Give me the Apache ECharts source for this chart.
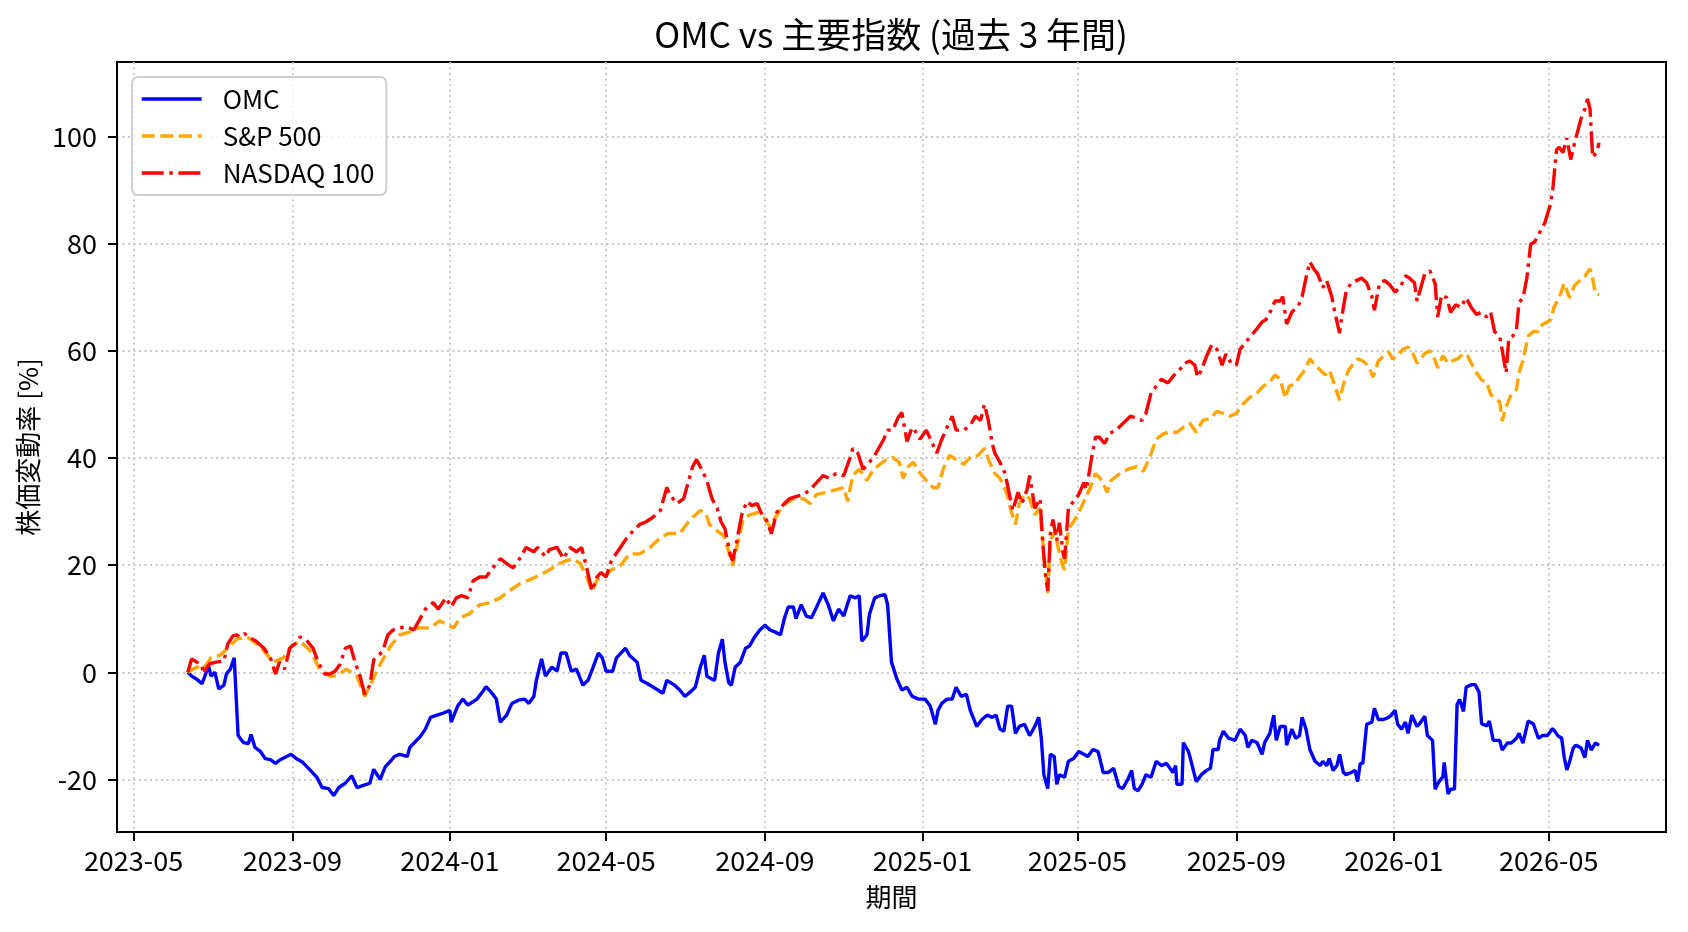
<!DOCTYPE html>
<html>
<head>
<meta charset="utf-8">
<title>OMC vs 主要指数</title>
<script src="https://cdn.jsdelivr.net/npm/echarts@6/dist/echarts.min.js"></script>
<style>
html, body { margin: 0; padding: 0; background: #fff; }
#chart { width: 1688px; height: 932px; }
</style>
</head>
<body>
<div id="chart"></div>
<script>
// x values are days counted from 2023-05-01, y values are % change from the first day
var BASE = Date.UTC(2023, 4, 1);
var DAY = 86400000;

var tickMonths = ['2023-05', '2023-09', '2024-01', '2024-05', '2024-09', '2025-01', '2025-05', '2025-09', '2026-01', '2026-05'];
var yTicks = [-20, 0, 20, 40, 60, 80, 100];
var seriesNames = ['OMC', 'S&P 500', 'NASDAQ 100'];

var omcPoints = [
	[42,0],[45,-0.7],[49,-1.3],[53,-2.1],[55,-0.9],[58,1.3],[60,-0.7],[63,0],[66,-3.1],[70,-2.4],[72,-0.3],[75,0.6],[78,2.7],[80,-7.1],[81,-11.8],[85,-13.1],[89,-13.3],[91,-11.6],[94,-14],[98,-14.7],
	[102,-16.1],[106,-16.3],[110,-17],[113,-16.4],[117,-15.9],[122,-15.3],[126,-16.1],[131,-16.8],[137,-18.3],[142,-19.6],[146,-21.5],[151,-21.7],[155,-23],[159,-21.5],[164,-20.7],[169,-19.3],[173,-21.5],[178,-21.1],[183,-20.7],[186,-18.1],
	[191,-20],[195,-17.6],[199,-16.6],[202,-15.7],[206,-15.3],[212,-15.7],[214,-14],[218,-13],[222,-12],
	[226,-10.6],[230,-8.4],[235,-8],[240,-7.6],[245,-7.1],[246,-9.3],[251,-6.3],[255,-5],[259,-6.1],[266,-5],[270,-3.7],[273,-2.7],[277,-3.7],[281,-5],[284,-9.3],[289,-8],[293,-5.8],[298,-5.2],[303,-5],[306,-5.8],
	[310,-4.5],[312,-1.5],[316,2.5],[319,-0.7],[324,1],[328,0.2],[331,3.6],[335,3.6],[339,0.2],[343,0.6],[348,-2.4],[352,-1.5],[356,1],[360,3.6],[363,2.7],[366,0.2],[371,0.2],[374,2.7],[381,4.5],[384,3.2],
	[390,1.9],[393,-1.5],[397,-2],[402,-2.7],[410,-3.9],[413,-1.5],
	[419,-2.4],[423,-3.3],[427,-4.5],[431,-3.7],[435,-2.8],[439,1],[442,3.2],[444,-0.7],[448,-1.3],[450,-1.5],[453,3.6],[456,6.2],[458,1.9],[461,-2],[463,-2.4],[466,1],[470,1.9],[474,4.5],[477,4.9],[481,6.6],
	[485,7.9],[489,8.8],[493,7.9],[497,7.5],[501,7],[504,10],[507,12.2],[511,12.2],[513,10],[517,12.6],[521,10.5],[525,10.2],[529,12.2],[534,14.8],[538,12.6],[542,9.6],[546,11.8],[550,10.5],[555,14.3],[559,13.9],
	[562,14.3],[564,5.8],[568,7],[570,10.9],[574,13.9],[578,14.3],[582,14.5],[584,12.6],[587,1.9],[591,-1.1],[595,-3.3],[599,-2.8],[603,-4.5],[608,-5],
	[613,-5],[617,-6.3],[621,-9.7],[623,-7.1],[626,-5.8],[630,-5],[634,-5],[637,-2.8],[641,-4.5],[645,-4.1],[648,-7.1],[653,-10.1],[657,-8.8],[661,-8],[665,-8.4],[668,-8],[671,-10.6],[674,-11],[677,-6.3],[680,-6.3],
	[683,-11.4],[686,-10.1],[690,-9.7],[694,-11.8],[698,-10.1],[701,-8.4],[703,-12.3],[705,-19.1],[708,-21.7],[710,-15.3],[713,-15.7],[715,-20.9],[717,-19.1],[721,-19.6],[724,-16.6],[728,-16.1],[732,-14.8],[736,-15.3],[739,-15.7],[743,-14.4],
	[747,-14.8],[751,-18.7],[755,-18.7],[759,-17.9],[763,-21.3],[766,-21.7],[770,-20],[773,-18.3],[775,-21.7],[778,-22.1],[781,-20.9],[784,-19.1],[788,-19.6],[792,-16.6],[796,-17.4],[800,-17],
	[805,-18.7],[807,-17.4],[808,-20.9],[812,-20.9],[813,-13.1],[817,-14.8],[819,-16.6],[823,-20.4],[827,-19.1],[831,-18.3],[834,-17.9],[836,-14.4],[840,-14.4],[841,-12.7],[844,-11],[848,-12.3],[853,-12.7],[857,-10.6],[861,-11.8],[863,-14],
	[866,-12.7],[870,-13.1],[874,-15.3],[876,-13.1],[880,-11.4],[883,-8],[885,-12.7],[888,-10.1],[892,-10.1],[893,-13.6],[897,-10.6],[900,-12.3],[903,-11.8],[905,-8.4],[908,-10.6],[911,-14.4],[915,-16.6],[919,-17.4],[921,-16.6],[924,-17.4],
	[926,-16.1],[929,-18.3],[932,-17.4],[934,-15.3],[937,-18.7],[939,-19.1],[943,-18.7],[946,-18.3],[948,-20.4],[950,-17],[952,-17],[955,-9.7],[959,-9.3],[961,-6.7],[964,-8.8],[968,-8.8],[972,-8.4],[974,-8],[977,-7.1],[979,-9.7],
	[982,-10.6],[985,-9.3],[987,-11.4],[990,-8],[994,-10.1],
	[996,-9.6],[1000,-8.2],[1002,-11.8],[1006,-12.7],[1008,-21.8],[1011,-20.4],[1014,-19.5],[1015,-16.8],[1018,-22.7],[1020,-21.8],[1023,-21.8],[1025,-6],[1027,-5.1],[1030,-7.3],[1032,-2.8],[1036,-2.3],[1039,-2.3],[1042,-3.7],[1044,-9.6],[1048,-10],
	[1050,-9.1],[1053,-12.7],[1058,-12.7],[1060,-14.5],[1064,-13.2],[1067,-13.2],[1071,-12.3],[1073,-11.4],[1076,-13.2],[1080,-9.1],[1084,-9.6],[1088,-12.3],[1091,-11.8],[1095,-11.8],[1099,-10.5],[1103,-11.8],[1106,-12.3],[1108,-15.9],[1110,-18.2],[1112,-16.8],
	[1115,-14.1],[1117,-13.6],[1121,-14.1],[1124,-15.9],[1126,-12.7],[1129,-14.5],[1132,-13.2],[1135,-13.6]
];

var spPoints = [
	[42,0],[49,1],[54,0.6],[60,2.7],[67,3.2],[73,4.5],[80,6.2],[88,6.6],[93,5.8],[101,4],[108,1.9],[116,2.7],[122,4.9],[129,5.8],[137,4],[144,0.6],[152,-0.7],[157,-0.7],[165,0.6],[173,-0.7],
	[179,-4.5],[184,-2],[191,1.5],[199,4.9],[206,7],[214,7.5],[221,8.3],
	[230,8.3],[237,9.6],[248,8.3],[253,10.2],[260,10.9],[268,12.6],[276,13],[284,13.9],[291,15.2],[299,16.5],[307,17.3],[315,18.2],[322,19.1],[330,20.3],[335,20.8],[340,21.2],[346,20.3],[351,17.8],[355,15.2],[359,17.3],
	[364,17.8],[370,19.1],[377,19.9],[384,22.1],[392,22.1],[400,23.3],[408,25.1],[414,25.9],
	[423,25.9],[431,28.5],[439,30.2],[443,29.8],[446,27.6],[452,26.4],[457,25.5],[461,22.5],[464,19.9],[468,24.2],[472,28.5],[477,29.4],[483,29.8],[488,28.9],[493,27.2],[497,28.9],[503,31.1],[511,32.4],[519,32.4],[524,31.5],
	[529,33.2],[537,33.6],[544,34.1],[550,34.5],[553,31.9],[557,36.7],[562,37.9],[568,35.8],[573,37.9],[578,38.8],[583,39.7],[588,40.1],[593,39.2],[596,36.2],[600,38.4],[604,39.2],[608,37.5],
	[614,35.8],[619,34.5],[623,34.5],[627,37.9],[632,40.5],[637,39.7],[643,38.8],[648,40.1],[654,40.5],[659,41.8],[663,39.2],[667,37.1],[671,36.2],[676,33.6],[680,29.8],[683,27.6],[686,31.5],[690,33.2],[694,32.4],[698,29.4],
	[702,30.6],[705,22.1],[708,14.8],[710,24.6],[714,26.4],[716,23.3],[719,20.3],[721,19.1],[724,26.8],[728,28.1],[732,29.8],[737,32.4],[741,34.5],[745,37.1],[750,35.8],[754,33.6],[757,35.8],[764,37.1],[770,37.9],[777,38.4],
	[782,37.5],[787,40.1],[792,43.5],[797,44.4],[801,44.8],
	[808,44.8],[813,45.7],[818,46.5],[823,44.8],[828,47],[834,47.4],[839,48.7],[844,48.3],[849,47.8],[854,48.3],[859,50],[864,51.2],[870,52.1],[875,53.4],[880,54.2],[884,55.5],[888,54.7],[892,51.2],[895,53.4],[899,53.8],
	[903,55.1],[907,56.4],[911,58.5],[915,57.3],[919,56.4],[923,55.5],[926,56.4],[930,53.8],[934,50.8],[937,53.8],[941,56.4],[945,57.7],[948,58.5],[952,58.1],[956,57.3],[960,55.1],[964,58.1],[968,59],[972,59.8],[975,58.5],
	[979,59],[983,60.3],[987,60.7],[991,59.4],[994,57.7],
	[1000,59.5],[1004,60],[1008,58.2],[1010,56.8],[1014,59.1],[1018,57.7],[1022,58.2],[1026,58.6],[1030,59.5],[1033,59.1],[1036,57.7],[1040,55.9],[1044,54.6],[1048,54.1],[1051,51.9],[1055,50.9],[1058,50.5],[1060,46.9],[1063,49.6],[1067,51.9],
	[1071,52.8],[1073,55.9],[1076,58.2],[1080,62.7],[1084,63.6],[1088,63.6],[1091,64.9],[1095,65.4],[1098,65.9],[1100,68.1],[1104,69.9],[1108,72.6],[1112,69.9],[1116,72.2],[1120,73.1],[1124,73.9],[1128,75.3],[1130,73.5],[1132,70.8],[1135,70.4]
];

var ndxPoints = [
	[42,0],[45,2.5],[49,1.9],[53,1.3],[54,-0.3],[57,1],[59,1.6],[64,1.9],[70,2.1],[73,5.3],[77,6.8],[80,7],[82,6.6],[86,7.2],[90,6.5],[95,5.8],[101,4.5],[106,2.7],[110,-0.3],[113,1.9],
	[117,0.6],[121,4.5],[126,5.5],[129,6.6],[134,6],[139,4.5],[143,1.9],[148,-0.3],[152,-0.3],[156,0.2],[160,1.5],[164,4.5],[168,4.9],[172,1.5],[175,-0.3],[179,-4.1],[183,-2.4],[186,2.3],[190,3.2],[193,4],
	[197,7],[201,7.9],[206,8.3],[212,8.5],[217,7.9],[221,9.6],
	[226,11.8],[232,13],[236,11.8],[242,13.9],[246,12.2],[250,13.9],[254,14.3],[259,13.9],[263,17.1],[268,17.8],[273,17.8],[277,19.1],[284,21.2],[289,20.3],[294,19.5],[299,21.2],[304,23.3],[310,22.5],[313,23.3],[319,21.6],
	[322,22.9],[328,23.3],[333,21.2],[338,23.3],[343,22.5],[347,23.3],[351,19.5],[355,15.2],[359,17.8],[362,18.6],[366,17.8],[370,20.8],[377,23.3],[382,25.1],[387,26.4],[392,27.6],[397,28.1],[402,28.9],[408,30.2],[413,34.5],
	[415,33.2],[421,31.5],[426,32.4],[430,35.8],[433,38.4],[436,39.7],[440,37.9],[444,35.8],[448,32.4],[452,30.6],[455,28.1],[458,26.8],[462,22.1],[464,20.8],[467,24.2],[471,29.4],[475,31.9],[479,31.1],[483,31.5],[486,29.8],
	[490,28.5],[494,25.9],[498,29.8],[504,31.5],[508,32.4],[513,32.8],[519,33.2],[524,34.1],[529,35.4],[534,36.7],[539,36.2],[544,37.1],[550,36.7],[555,40.1],[557,41.8],[561,40.9],[565,37.9],[570,39.2],[575,40.9],[581,43.5],
	[584,45.2],[588,45.2],[592,47.5],[595,48.5],[599,43.1],[603,45.7],[606,44.8],
	[609,43.5],[614,45.2],[618,43.1],[622,40.9],[626,43.5],[630,45.7],[634,47.8],[637,45.2],[643,45.2],[648,46.1],[652,47.8],[656,47],[659,50],[662,47],[665,42.7],[667,40.9],[671,39.2],[675,37.1],[679,32.4],[681,30.2],
	[685,33.6],[688,31.5],[692,34.1],[694,36.7],[698,30.6],[702,32.4],[704,24.6],[706,18.6],[708,15.2],[710,25.9],[712,28.5],[715,24.6],[717,27.9],[720,22.1],[721,21.2],[724,30.6],[728,31.9],[732,33.2],[736,35.4],[738,34.1],
	[742,40.1],[745,43.9],[748,43.9],[752,42.7],[756,44.6],[761,45.2],[766,46.4],[772,47.8],[777,47.4],[781,47],[784,48.3],[788,52.1],[792,53.4],[796,54.7],[801,54],
	[806,55.5],[810,56.4],[814,57.7],[818,58.1],[822,57.3],[824,55.1],[827,56.4],[831,59],[835,61.1],[839,60.3],[843,57.3],[846,59.4],[850,57.7],[854,57.3],[857,60.3],[861,61.5],[864,62.4],[870,64.1],[874,65.4],[877,65.8],
	[881,67.6],[884,69.3],[888,69.3],[890,70.1],[893,65],[897,67.2],[902,68.4],[905,70.1],[908,73.6],[911,76.6],[914,75.3],[917,74.4],[921,71.8],[924,73.1],[928,70.1],[930,67.6],[934,63.3],[936,66.7],[939,71],[943,72.7],
	[947,73.1],[951,73.6],[955,72.7],[959,70.1],[961,67.6],[965,72.7],[969,73.1],[973,72.3],[977,71],[981,71.8],[985,74],[988,73.6],[992,72.7],[994,69.3],
	[1000,74.4],[1004,74.9],[1008,72.6],[1010,66.3],[1013,70.4],[1017,69.9],[1020,67.2],[1024,68.6],[1028,68.1],[1032,69.9],[1036,68.1],[1040,66.8],[1044,67.2],[1048,66.3],[1051,67.2],[1054,63.6],[1058,62.7],[1060,60],[1063,55.9],[1065,62.2],
	[1068,62.7],[1071,64],[1073,69],[1076,69.9],[1079,73.5],[1082,79.9],[1085,80.3],[1089,82.1],[1093,83.9],[1097,87.1],[1099,89.8],[1102,97.5],[1104,98],[1107,97],[1110,99.7],[1113,95.7],[1116,98.8],[1119,101.5],[1121,103.3],[1124,105.1],
	[1126,107],[1128,105.1],[1130,96.1],[1133,97],[1135,98.8]
];

var FONT = "'Noto Sans CJK JP', 'Noto Sans', sans-serif";

function toTime(day) {
	return BASE + day * DAY;
}

function build(points) {
	return points.map(function(p) {
		return [toTime(p[0]), p[1]];
	});
}

function pad(n) {
	return n < 10 ? '0' + n : '' + n;
}

var monthTicks = tickMonths.map(function(m) {
	var parts = m.split('-');
	return Date.UTC(Number(parts[0]), Number(parts[1]) - 1, 1);
});

var chart = echarts.init(document.getElementById('chart'));

var option = {
	animation: false,
	backgroundColor: '#ffffff',
	textStyle: {
		fontFamily: FONT
	},
	title: {
		text: 'OMC vs 主要指数 (過去 3 年間)',
		left: 891,
		top: 17,
		textAlign: 'center',
		padding: 0,
		textStyle: {
			fontSize: 35,
			fontWeight: 'normal',
			color: '#000',
			fontFamily: FONT
		}
	},
	legend: {
		orient: 'vertical',
		left: 132,
		top: 77,
		padding: [9, 12, 9, 8],
		itemGap: 11,
		itemWidth: 60,
		itemHeight: 20,
		backgroundColor: 'rgba(255,255,255,0.8)',
		borderColor: '#d0d0d0',
		borderWidth: 2,
		borderRadius: 6,
		itemStyle: {
			opacity: 0
		},
		lineStyle: {
			width: 3.4
		},
		textStyle: {
			fontSize: 26,
			color: '#000',
			fontFamily: FONT,
			padding: [0, 0, 0, 16]
		},
		data: seriesNames
	},
	grid: {
		left: 117,
		right: 22,
		top: 62,
		bottom: 100,
		show: true,
		borderColor: '#000',
		borderWidth: 2,
		outerBoundsMode: 'none',
		containLabel: false
	},
	xAxis: {
		type: 'value',
		min: toTime(-12.8),
		max: toTime(1186.8),
		name: '期間',
		nameLocation: 'middle',
		nameGap: 52,
		nameTextStyle: {
			fontSize: 26,
			color: '#000',
			fontFamily: FONT
		},
		axisLine: {
			show: true,
			onZero: false,
			lineStyle: { color: '#000', width: 2 }
		},
		axisTick: {
			show: true,
			length: 9,
			customValues: monthTicks,
			lineStyle: { color: '#000', width: 2 }
		},
		axisLabel: {
			customValues: monthTicks,
			fontSize: 27,
			color: '#000',
			margin: 15,
			hideOverlap: false,
			formatter: function(val) {
				var d = new Date(val);
				return d.getUTCFullYear() + '-' + pad(d.getUTCMonth() + 1);
			}
		},
		splitLine: {
			show: true,
			lineStyle: { color: '#c8c8c8', width: 1.8, type: [2, 3.5] }
		}
	},
	yAxis: {
		type: 'value',
		min: -29.8,
		max: 113.9,
		name: '株価変動率 [%]',
		nameLocation: 'middle',
		nameGap: 64,
		nameTextStyle: {
			fontSize: 26,
			color: '#000',
			fontFamily: FONT
		},
		axisLine: {
			show: true,
			onZero: false,
			lineStyle: { color: '#000', width: 2 }
		},
		axisTick: {
			show: true,
			length: 9,
			customValues: yTicks,
			lineStyle: { color: '#000', width: 2 }
		},
		axisLabel: {
			customValues: yTicks,
			fontSize: 27,
			color: '#000',
			margin: 20
		},
		splitLine: {
			show: true,
			lineStyle: { color: '#c8c8c8', width: 1.8, type: [2, 3.5] }
		}
	},
	series: [{
		name: seriesNames[0],
		type: 'line',
		data: build(omcPoints),
		symbol: 'none',
		lineStyle: { color: '#0000ff', width: 3.4 },
		itemStyle: { color: '#0000ff' }
	}, {
		name: seriesNames[1],
		type: 'line',
		data: build(spPoints),
		symbol: 'none',
		lineStyle: { color: '#ffa500', width: 3.4, type: [13, 5.6] },
		itemStyle: { color: '#ffa500' }
	}, {
		name: seriesNames[2],
		type: 'line',
		data: build(ndxPoints),
		symbol: 'none',
		lineStyle: { color: '#ff0000', width: 3.4, type: [22, 5.6, 3.5, 5.6] },
		itemStyle: { color: '#ff0000' }
	}]
};

chart.setOption(option);
</script>
</body>
</html>
